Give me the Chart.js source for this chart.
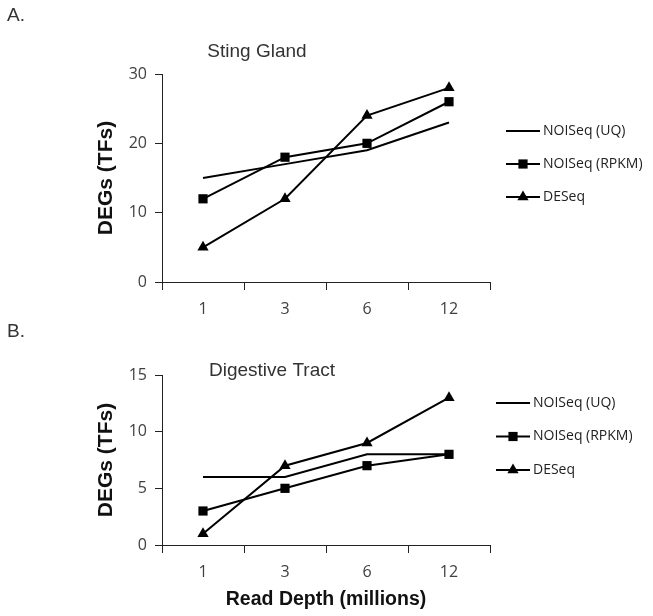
<!DOCTYPE html>
<html>
<head>
<meta charset="utf-8">
<script src="https://cdn.jsdelivr.net/npm/chart.js@4.4.1/dist/chart.umd.min.js"></script>
<style>
  body { margin: 0; background: #fff; }
  #wrap { position: relative; width: 653px; height: 616px; overflow: hidden; }
  #boxA { position: absolute; left: 0; top: 0; width: 653px; height: 320px; }
  #boxB { position: absolute; left: 0; top: 300px; width: 653px; height: 316px; }
</style>
</head>
<body>
<div id="wrap">
  <div id="boxA"><canvas id="chartA"></canvas></div>
  <div id="boxB"><canvas id="chartB"></canvas></div>
</div>
<script>
// data
const readDepth = ['1', '3', '6', '12'];
const seriesNames = ['NOISeq (UQ)', 'NOISeq (RPKM)', 'DESeq'];

const stingUQ = [15, 17, 19, 23];
const stingRPKM = [12, 18, 20, 26];
const stingDESeq = [5, 12, 24, 28];

const gutUQ = [6, 6, 8, 8];
const gutRPKM = [3, 5, 7, 8];
const gutDESeq = [1, 7, 9, 13];

const textFont = "'Open Sans', 'Noto Sans', sans-serif";
const arialFont = "'Liberation Sans', Arial, sans-serif";

// legend on the right: line with the marker in the middle
const sideLegend = {
  id: 'sideLegend',
  afterDraw(chart, args, opts) {
    const ctx = chart.ctx;
    ctx.save();
    chart.data.datasets.forEach((ds, i) => {
      const y = opts.top + i * opts.rowGap;
      const x0 = opts.left;
      ctx.strokeStyle = ds.borderColor;
      ctx.lineWidth = ds.borderWidth;
      ctx.beginPath();
      ctx.moveTo(x0, y);
      ctx.lineTo(x0 + opts.lineLength, y);
      ctx.stroke();
      if (ds.pointRadius > 0) {
        drawMarker(ctx, ds.pointStyle, ds.pointRadius, x0 + opts.lineLength / 2, y, ds.pointBackgroundColor);
      }
      ctx.fillStyle = '#222';
      ctx.font = "14px " + textFont;
      ctx.textBaseline = 'middle';
      ctx.textAlign = 'left';
      ctx.fillText(ds.label, x0 + opts.lineLength + opts.textGap, y);
    });
    ctx.restore();
  }
};

function drawMarker(ctx, style, r, x, y, color) {
  ctx.fillStyle = color;
  ctx.beginPath();
  if (style === 'rect') {
    const s = Math.SQRT1_2 * r;
    ctx.rect(x - s, y - s, 2 * s, 2 * s);
  } else if (style === 'triangle') {
    let rad = 0;
    ctx.moveTo(x + Math.sin(rad) * r, y - Math.cos(rad) * r);
    rad += 2 * Math.PI / 3;
    ctx.lineTo(x + Math.sin(rad) * r, y - Math.cos(rad) * r);
    rad += 2 * Math.PI / 3;
    ctx.lineTo(x + Math.sin(rad) * r, y - Math.cos(rad) * r);
    ctx.closePath();
  }
  ctx.fill();
}

// panel letter + title
const panelText = {
  id: 'panelText',
  afterDraw(chart, args, opts) {
    const ctx = chart.ctx;
    ctx.save();
    ctx.fillStyle = '#333';
    ctx.textBaseline = 'middle';
    ctx.textAlign = 'left';
    ctx.font = "19px " + arialFont;
    ctx.fillText(opts.letter, opts.letterX, opts.letterY);
    ctx.textAlign = 'center';
    ctx.fillText(opts.title, opts.titleX, opts.titleY);
    ctx.restore();
  }
};

function makeDatasets(uq, rpkm, deseq) {
  const base = { borderColor: '#000', borderWidth: 2, pointBackgroundColor: '#000', pointBorderWidth: 0, tension: 0, clip: false };
  return [
    Object.assign({}, base, { label: seriesNames[0], data: uq, pointRadius: 0, pointStyle: 'circle' }),
    Object.assign({}, base, { label: seriesNames[1], data: rpkm, pointRadius: 6.5, pointStyle: 'rect' }),
    Object.assign({}, base, { label: seriesNames[2], data: deseq, pointRadius: 6.5, pointStyle: 'triangle' })
  ];
}

function makeChart(id, datasets, yMax, yStep, cfg) {
  return new Chart(document.getElementById(id), {
    type: 'line',
    data: { labels: readDepth, datasets: datasets },
    options: {
      responsive: true,
      maintainAspectRatio: false,
      animation: false,
      layout: { padding: { left: 90, right: 163, top: cfg.top, bottom: cfg.bottom } },
      plugins: {
        legend: { display: false },
        tooltip: { enabled: false },
        sideLegend: cfg.legend,
        panelText: cfg.text
      },
      scales: {
        x: {
          offset: true,
          grid: { offset: true, drawOnChartArea: false, color: '#222', tickLength: 8, tickWidth: 1 },
          border: { color: '#222', width: 1 },
          ticks: { color: '#404040', font: { family: textFont, size: 16 }, padding: 10, maxRotation: 0 },
          title: { display: cfg.xTitle, text: 'Read Depth (millions)', color: '#111', font: { family: arialFont, size: 19.5, weight: 'bold' }, padding: { top: 4, bottom: 4 } },
          afterFit: s => { s.height = cfg.xHeight; }
        },
        y: {
          min: 0,
          max: yMax,
          ticks: { stepSize: yStep, color: '#404040', font: { family: textFont, size: 16 }, padding: 8 },
          grid: { drawOnChartArea: false, color: '#222', tickLength: 7 },
          border: { color: '#222', width: 1 },
          title: { display: true, text: 'DEGs (TFs)', color: '#111', font: { family: arialFont, size: 21, weight: 'bold' }, padding: { top: 4, bottom: 4 } },
          afterFit: s => { s.width = 72; }
        }
      }
    },
    plugins: [sideLegend, panelText]
  });
}

makeChart('chartA', makeDatasets(stingUQ, stingRPKM, stingDESeq), 30, 10, {
  top: 74, bottom: 0, xHeight: 38, xTitle: false,
  legend: { left: 506, top: 131, rowGap: 33, lineLength: 34, textGap: 3 },
  text: { letter: 'A.', letterX: 7, letterY: 16, title: 'Sting Gland', titleX: 257, titleY: 52 }
});

makeChart('chartB', makeDatasets(gutUQ, gutRPKM, gutDESeq), 15, 5, {
  top: 75, bottom: 1, xHeight: 70, xTitle: true,
  legend: { left: 496, top: 103, rowGap: 33.5, lineLength: 34, textGap: 3 },
  text: { letter: 'B.', letterX: 7, letterY: 32, title: 'Digestive Tract', titleX: 272, titleY: 71 }
});
</script>
</body>
</html>
